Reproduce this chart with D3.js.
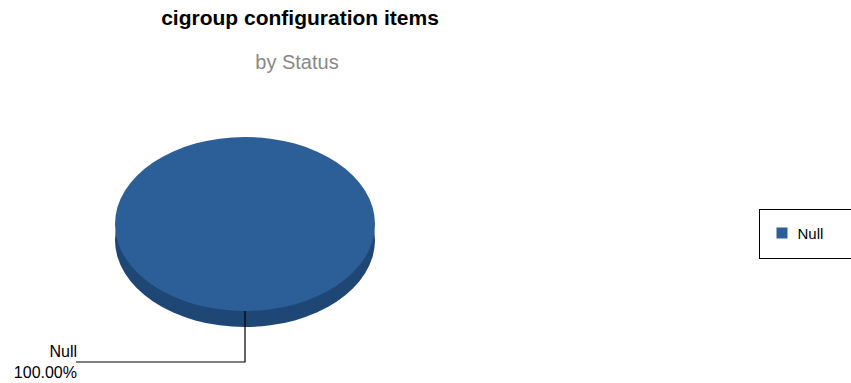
<!DOCTYPE html>
<html>
<head>
<meta charset="utf-8">
<script src="https://cdn.jsdelivr.net/npm/d3@7"></script>
<style>
  body { margin: 0; background: #fff; }
  svg { display: block; font-family: "Liberation Sans", Arial, sans-serif; }
</style>
</head>
<body>
<div id="root"></div>
<script>
const width = 851;
const height = 383;

const categories = ['Null'];
const values = [1];
const colors = ['#2c5e97'];
const sideColors = ['#1f4775'];

const titleText = 'cigroup configuration items';
const subtitleText = 'by Status';

const cx = 245, cy = 224, rx = 130, ry = 87, depth = 16;

const svg = d3.select('#root')
  .append('svg')
    .attr('width', width)
    .attr('height', height);

svg.append('text')
  .attr('x', 300).attr('y', 25)
  .attr('text-anchor', 'middle')
  .style('font-size', '21px')
  .style('font-weight', 'bold')
  .style('fill', '#000')
  .text(titleText);

svg.append('text')
  .attr('x', 297).attr('y', 69)
  .attr('text-anchor', 'middle')
  .style('font-size', '20px')
  .style('fill', '#888')
  .text(subtitleText);

const data = categories.map((c, i) => ({ name: c, value: values[i], i }));
const total = d3.sum(values);
const arcs = d3.pie().sort(null).value(d => d.value)(data);
const arc = d3.arc().innerRadius(0).outerRadius(rx);

// side wall, drawn first and shifted down
svg.append('g')
    .attr('transform', `translate(${cx}, ${cy + depth}) scale(1, ${ry / rx})`)
  .selectAll('path')
  .data(arcs).enter()
  .append('path')
    .attr('d', arc)
    .style('fill', d => sideColors[d.data.i]);

svg.append('g')
    .attr('transform', `translate(${cx}, ${cy}) scale(1, ${ry / rx})`)
  .selectAll('path')
  .data(arcs).enter()
  .append('path')
    .attr('d', arc)
    .style('fill', d => colors[d.data.i]);

// leader lines + labels
const lineY = 362;
const lineEndX = 76;
arcs.forEach(d => {
  const a = (d.startAngle + d.endAngle) / 2;
  const px = cx + rx * Math.sin(a);
  const py = cy - ry * Math.cos(a);
  svg.append('path')
    .attr('d', `M${px},${py} L${px},${lineY} L${lineEndX},${lineY}`)
    .style('fill', 'none')
    .style('stroke', '#000')
    .style('stroke-width', 1.2);
  svg.append('text')
    .attr('x', lineEndX + 1).attr('y', 357)
    .attr('text-anchor', 'end')
    .style('font-size', '16px')
    .text(d.data.name);
  svg.append('text')
    .attr('x', lineEndX + 1).attr('y', 378)
    .attr('text-anchor', 'end')
    .style('font-size', '16px')
    .text(d3.format('.2f')(d.data.value / total * 100) + '%');
});

// legend
const legend = svg.append('g').attr('transform', 'translate(759.5, 209.5)');
legend.append('rect')
  .attr('width', 100).attr('height', 49)
  .style('fill', '#fff')
  .style('stroke', '#000')
  .style('stroke-width', 1);
const items = legend.selectAll('.item')
  .data(data).enter()
  .append('g')
    .attr('class', 'item')
    .attr('transform', (d, i) => `translate(17, ${18 + i * 20})`);
items.append('rect')
  .attr('width', 11).attr('height', 11)
  .style('fill', d => colors[d.i]);
items.append('text')
  .attr('x', 21).attr('y', 11)
  .style('font-size', '15px')
  .text(d => d.name);
</script>
</body>
</html>
